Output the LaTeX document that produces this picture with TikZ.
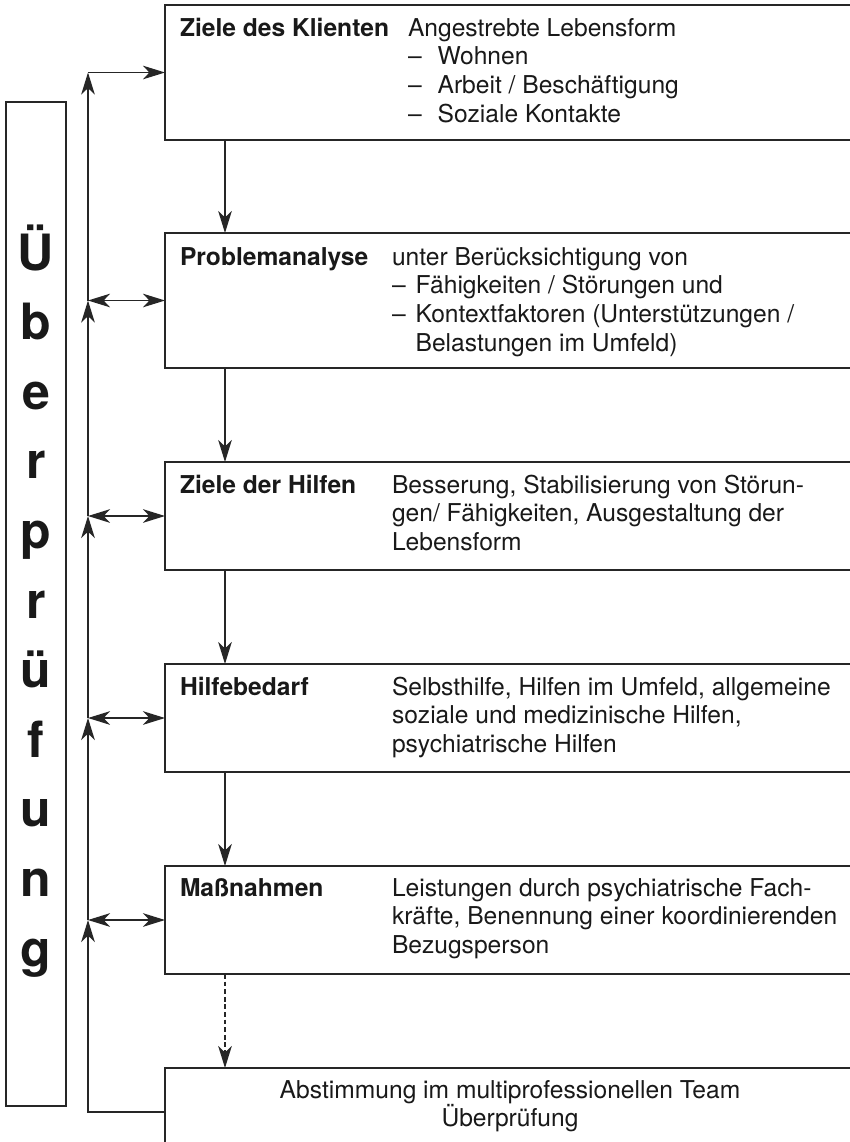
\documentclass[tikz,border=0pt]{standalone}
\usepackage{fontspec}
\setmainfont{TeX Gyre Heros}
\usetikzlibrary{arrows.meta}
\begin{document}
\begin{tikzpicture}[x=0.5pt,y=-0.5pt,
  >={Stealth[length=11pt,width=6.8pt,inset=3.2pt]},
  every node/.style={inner sep=0pt, outer sep=0pt},
  flowbox/.style={draw=black!85, line width=0.7pt, rectangle, minimum width=345pt},
  sidebox/.style={draw=black!85, line width=0.7pt, rectangle, minimum width=30pt, minimum height=502pt},
  lbl/.style={font=\fontsize{12.3}{14.35}\selectfont\bfseries, text=black!90, anchor=base west},
  txt/.style={font=\fontsize{12.3}{14.35}\selectfont, text=black!90, anchor=base west},
  bigtxt/.style={font=\fontsize{25}{34.8}\selectfont\bfseries, text=black!90, anchor=base},
  conn/.style={draw=black!85, line width=0.65pt}
]
\useasboundingbox (0,0) rectangle (850,1142);
\fill[white] (0,0) rectangle (850,1142);

% boxes
\node[flowbox, minimum height=67.5pt] (b1) at (510,72.5) {};
\node[flowbox, minimum height=67.5pt] (b2) at (510,300.5) {};
\node[flowbox, minimum height=54pt] (b3) at (510,516) {};
\node[flowbox, minimum height=54pt] (b4) at (510,718) {};
\node[flowbox, minimum height=54pt] (b5) at (510,920) {};
\node[flowbox, minimum height=44pt] (b6) at (510,1112) {};

% side box
\node[sidebox] (side) at (36,604) {};
\node[bigtxt] (sidetxt) at (36,270) {\parbox[t]{30pt}{\centering Ü\\b\\e\\r\\p\\r\\ü\\f\\u\\n\\g}};

% texts
\node[lbl] (l1) at (180,36) {Ziele des Klienten};
\node[txt] (t1) at (408,36) {\parbox[t]{300pt}{\raggedright Angestrebte Lebensform\\
\makebox[14.8pt][l]{–}Wohnen\\
\makebox[14.8pt][l]{–}Arbeit / Beschäftigung\\
\makebox[14.8pt][l]{–}Soziale Kontakte}};

\node[lbl] (l2) at (180,265) {Problemanalyse};
\node[txt] (t2) at (392,265) {\parbox[t]{300pt}{\raggedright unter Berücksichtigung von\\
\makebox[11.8pt][l]{–}Fähigkeiten / Störungen und\\
\makebox[11.8pt][l]{–}Kontextfaktoren (Unterstützungen /\\
\hspace*{11.8pt}Belastungen im Umfeld)}};

\node[lbl] (l3) at (180,493) {Ziele der Hilfen};
\node[txt] (t3) at (392,493) {\parbox[t]{300pt}{\raggedright Besserung, Stabilisierung von Störun-\\
gen/ Fähigkeiten, Ausgestaltung der\\
Lebensform}};

\node[lbl] (l4) at (180,695) {Hilfebedarf};
\node[txt] (t4) at (392,695) {\parbox[t]{300pt}{\raggedright Selbsthilfe, Hilfen im Umfeld, allgemeine\\
soziale und medizinische Hilfen,\\
psychiatrische Hilfen}};

\node[lbl] (l5) at (180,896) {Maßnahmen};
\node[txt] (t5) at (392,896) {\parbox[t]{300pt}{\raggedright Leistungen durch psychiatrische Fach-\\
kräfte, Benennung einer koordinierenden\\
Bezugsperson}};

\node[txt, anchor=base] (t6) at (510,1098) {\parbox[t]{400pt}{\centering Abstimmung im multiprofessionellen Team\\
Überprüfung}};

% connectors
\coordinate (vx) at (88,0);
\coordinate (ax) at (225,0);

\draw[conn,->] (b1.south -| ax) -- (b2.north -| ax);
\draw[conn,->] (b2.south -| ax) -- (b3.north -| ax);
\draw[conn,->] (b3.south -| ax) -- (b4.north -| ax);
\draw[conn,->] (b4.south -| ax) -- (b5.north -| ax);
\draw[conn,->,dash pattern=on 2.4pt off 1.4pt] (b5.south -| ax) -- (b6.north -| ax);

\draw[conn,->] (b6.west) -- (b6.west -| vx) -- (b5.west -| vx);
\draw[conn,->] (b5.west -| vx) -- (b4.west -| vx);
\draw[conn,->] (b4.west -| vx) -- (b3.west -| vx);
\draw[conn,->] (b3.west -| vx) -- (b2.west -| vx);
\draw[conn,->] (b2.west -| vx) -- (b1.west -| vx);

\draw[conn,->] (b1.west -| vx) -- (b1.west);
\draw[conn,<->] (b2.west -| vx) -- (b2.west);
\draw[conn,<->] (b3.west -| vx) -- (b3.west);
\draw[conn,<->] (b4.west -| vx) -- (b4.west);
\draw[conn,<->] (b5.west -| vx) -- (b5.west);
\end{tikzpicture}
\end{document}
